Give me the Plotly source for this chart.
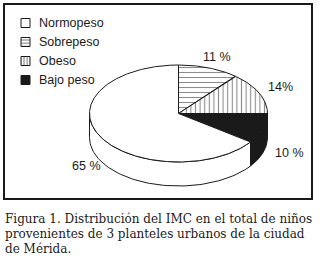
import numpy as np
import plotly.graph_objects as go

# ---- data ----
categories = ["Sobrepeso", "Obeso", "Bajo peso", "Normopeso"]   # clockwise from 12 o'clock
values = [11, 14, 10, 65]
value_labels = ["11 %", "14%", "10 %", "65 %"]
legend_order = ["Normopeso", "Sobrepeso", "Obeso", "Bajo peso"]
caption_lines = [
    "Figura 1. Distribución del IMC en el total de niños",
    "provenientes de 3 planteles urbanos de la ciudad",
    "de Mérida.",
]

# ---- style ----
INK = "#1a1a1a"
styles = {
    "Normopeso": dict(fillcolor="white", fillpattern=None),
    "Sobrepeso": dict(fillcolor="white", fillpattern=dict(shape="-", size=5, solidity=0.22, fgcolor=INK, bgcolor="white")),
    "Obeso": dict(fillcolor="white", fillpattern=dict(shape="|", size=4.6, solidity=0.24, fgcolor=INK, bgcolor="white")),
    "Bajo peso": dict(fillcolor=INK, fillpattern=None),
}
legend_styles = {
    "Normopeso": dict(fillcolor="white", fillpattern=None),
    "Sobrepeso": dict(fillcolor="white", fillpattern=dict(shape="-", size=3.2, solidity=0.35, fgcolor=INK, bgcolor="white")),
    "Obeso": dict(fillcolor="white", fillpattern=dict(shape="|", size=3.2, solidity=0.35, fgcolor=INK, bgcolor="white")),
    "Bajo peso": dict(fillcolor=INK, fillpattern=None),
}
CX, CY, RA, RB, DEPTH = 178.5, 113.5, 89, 48.5, 24
label_pos = {"11 %": (217, 57), "14%": (280, 87), "10 %": (289, 153), "65 %": (86, 166)}

def pt(theta_deg, dy=0.0):
    t = np.radians(theta_deg)
    return CX + RA * np.cos(t), CY - RB * np.sin(t) + dy

fig = go.Figure()

def add_poly(xs, ys, st):
    kw = dict(x=list(xs), y=list(ys), mode="lines", fill="toself",
              fillcolor=st["fillcolor"], line=dict(color=INK, width=1),
              hoverinfo="skip", showlegend=False)
    if st["fillpattern"] is not None:
        kw["fillpattern"] = st["fillpattern"]
    fig.add_trace(go.Scatter(**kw))

# slice angle ranges (clockwise from 90 deg)
total = float(sum(values))
starts, ends = [], []
a = 90.0
for v in values:
    starts.append(a)
    a -= 360.0 * v / total
    ends.append(a)

# side walls (visible front half: angles between 0 and -180)
for cat, s, e in zip(categories, starts, ends):
    hi = min(s, 0.0)
    lo = max(e, -180.0)
    if hi <= lo:
        continue
    th = np.linspace(hi, lo, 80)
    xt, yt = pt(th)
    xb, yb = pt(th[::-1], DEPTH)
    add_poly(np.concatenate([xt, xb, xt[:1]]), np.concatenate([yt, yb, yt[:1]]), styles[cat])

# top faces
for cat, s, e in zip(categories, starts, ends):
    n = max(int(abs(s - e) * 2), 10)
    th = np.linspace(s, e, n)
    xa, ya = pt(th)
    xs = np.concatenate([[CX], xa, [CX]])
    ys = np.concatenate([[CY], ya, [CY]])
    add_poly(xs, ys, styles[cat])

# value labels
for lab in value_labels:
    x, y = label_pos[lab]
    fig.add_annotation(x=x, y=y, text=lab, showarrow=False,
                       font=dict(family="Liberation Sans, Arial", size=12.5, color=INK))

# legend (manual swatches)
for i, cat in enumerate(legend_order):
    yc = 23 + i * 19
    x0, x1, y0, y1 = 21, 30, yc - 4.5, yc + 4.5
    add_poly([x0, x1, x1, x0, x0], [y0, y0, y1, y1, y0], legend_styles[cat])
    fig.add_annotation(x=37, y=yc, text=cat, showarrow=False, xanchor="left",
                       font=dict(family="Liberation Sans, Arial", size=12.5, color=INK))

# frame
fig.add_shape(type="rect", x0=4, y0=4, x1=312, y1=199, line=dict(color=INK, width=2))

# caption
for i, line in enumerate(caption_lines):
    fig.add_annotation(x=4, y=219 + i * 15, text=line, showarrow=False, xanchor="left",
                       borderpad=0,
                       font=dict(family="DejaVu Serif", size=12, color=INK))

fig.update_layout(
    width=320, height=260, margin=dict(l=0, r=0, t=0, b=0),
    paper_bgcolor="white", plot_bgcolor="white", showlegend=False,
    xaxis=dict(range=[0, 320], visible=False, fixedrange=True),
    yaxis=dict(range=[260, 0], visible=False, fixedrange=True),
)
fig.write_html("out.html", config={"displayModeBar": False},
               post_script="document.body.style.margin='0';document.body.style.padding='0';document.body.style.overflow='hidden';")
